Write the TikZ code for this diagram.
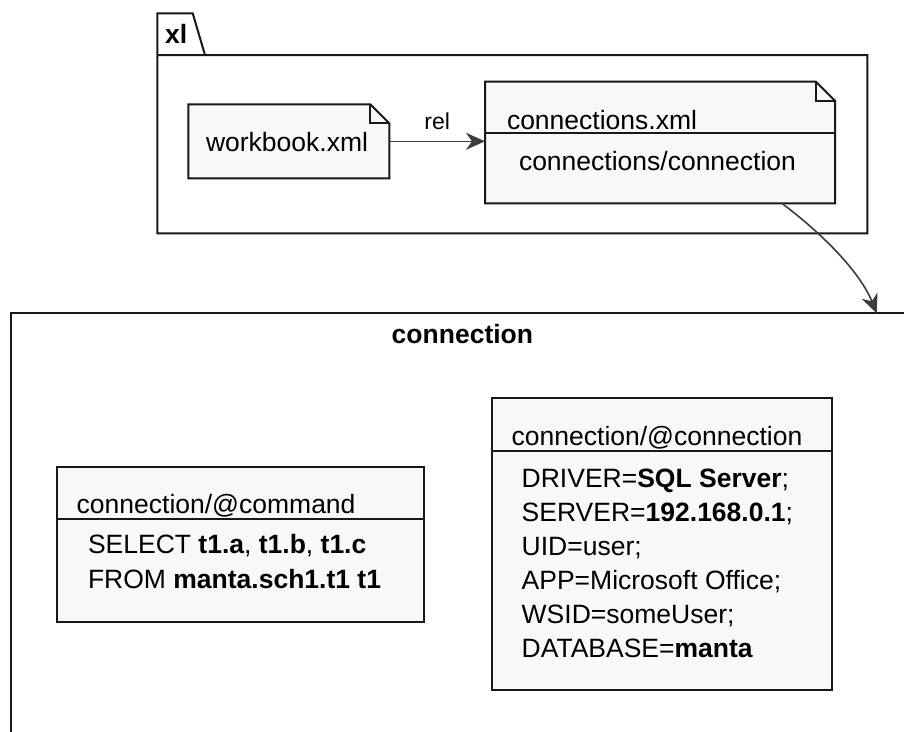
\documentclass[tikz,border=0pt]{standalone}
\usepackage{fontspec}
\setmainfont{Liberation Sans}
\usetikzlibrary{arrows.meta,calc}

\definecolor{boxfill}{RGB}{248,248,248}
\definecolor{edgec}{RGB}{24,24,24}
\definecolor{arrowc}{RGB}{60,60,60}

\begin{document}
\begin{tikzpicture}[x=1pt,y=-1pt,
  outline/.style={draw=edgec, line width=2pt, line join=miter},
  shapebox/.style={inner sep=0pt, outer sep=0pt, anchor=north west},
  txt/.style={inner sep=0pt, outer sep=0pt, anchor=base west, text=black,
              font=\fontsize{26.5}{34}\selectfont},
  % multi-line bodies are anchored at the baseline of their last line
  bodytxt/.style={txt, align=left},
  titletxt/.style={inner sep=0pt, anchor=base, text=black,
              font=\fontsize{26.5}{32}\selectfont\bfseries},
  relarrow/.style={draw=arrowc, line width=1.6pt,
              -{Stealth[length=19pt, width=17pt, inset=6pt]}},
  separator/.style={draw=edgec, line width=1.7pt}
]
\useasboundingbox (0,0) rectangle (904,731);
\clip (0,0) rectangle (904,731);

% ---- package "xl" with its folder tab
\node[shapebox, minimum width=710pt, minimum height=178.3pt] (xl) at (157.3,55) {};
\draw[outline] (xl.north west) -- (xl.south west) -- (xl.south east)
  -- (xl.north east) -- (xl.north west) -- ++(0,-41.7) -- ++(35.4,0)
  -- ($(xl.north west)+(47.7,0)$);
\node[titletxt, anchor=base west] (xltitle) at (165,43.3) {xl};

% ---- workbook.xml (note with folded corner)
\node[shapebox, minimum width=201pt, minimum height=74pt] (wb) at (188.3,104.3) {};
\draw[outline, fill=boxfill] (wb.north west) -- ($(wb.north east)+(-19,0)$)
  -- ($(wb.north east)+(0,19)$) -- (wb.south east) -- (wb.south west) -- cycle;
\draw[outline] ($(wb.north east)+(-19,0)$) -- ($(wb.north east)+(-19,19)$)
  -- ($(wb.north east)+(0,19)$);
\node[txt] (wbtext) at (206,151.7) {workbook.xml};

% ---- connections.xml (note with folded corner and one member)
\node[shapebox, minimum width=350pt, minimum height=121.6pt] (cx) at (485,81.7) {};
\draw[outline, fill=boxfill] (cx.north west) -- ($(cx.north east)+(-19,0)$)
  -- ($(cx.north east)+(0,19)$) -- (cx.south east) -- (cx.south west) -- cycle;
\draw[outline] ($(cx.north east)+(-19,0)$) -- ($(cx.north east)+(-19,19)$)
  -- ($(cx.north east)+(0,19)$);
\draw[separator] (cx.west |- 0,133.3) -- (cx.east |- 0,133.3);
\node[txt] (cxtitle) at (507,129) {connections.xml};
\node[txt] (cxbody) at (519,170) {connections/connection};

% ---- relation workbook -> connections
\draw[relarrow] (wb.east) -- (wb.east -| cx.west)
  node[midway, yshift=12pt, anchor=base, inner sep=0pt,
       font=\fontsize{23}{28}\selectfont] (rel) {rel};

% ---- frame "connection"
\node[shapebox, minimum width=950pt, minimum height=480pt, outline, fill=white]
  (conn) at (11,313.3) {};
\node[titletxt] (conntitle) at (462.4,343.3) {connection};
\coordinate (connin) at ($(conn.north west)+(865.7,0)$);

% ---- connections -> connection frame
\draw[relarrow] ($(cx.south west)!0.848!(cx.south east)$)
  .. controls +(40,30) and +(-17,-42) .. (connin);

% ---- connection/@command
\node[shapebox, outline, fill=boxfill, minimum width=367.3pt, minimum height=155pt]
  (cmd) at (56.7,466.7) {};
\draw[separator] (cmd.west |- 0,519) -- (cmd.east |- 0,519);
\node[txt] (cmdtitle) at (76.7,513) {connection/@command};
\node[bodytxt, font=\fontsize{26.5}{35}\selectfont] (cmdbody) at (88,588)
  {SELECT \textbf{t1.a}, \textbf{t1.b}, \textbf{t1.c}\\
   FROM \textbf{manta.sch1.t1 t1}};

% ---- connection/@connection
\node[shapebox, outline, fill=boxfill, minimum width=340pt, minimum height=292pt]
  (cn) at (491.7,398) {};
\draw[separator] (cn.west |- 0,450.7) -- (cn.east |- 0,450.7);
\node[txt] (cntitle) at (511.7,445) {connection/@connection};
\node[bodytxt] (cnbody) at (521.7,657)
  {DRIVER=\textbf{SQL Server};\\
   SERVER=\textbf{192.168.0.1};\\
   UID=user;\\
   APP=Microsoft Office;\\
   WSID=someUser;\\
   DATABASE=\textbf{manta}};
\end{tikzpicture}
\end{document}
